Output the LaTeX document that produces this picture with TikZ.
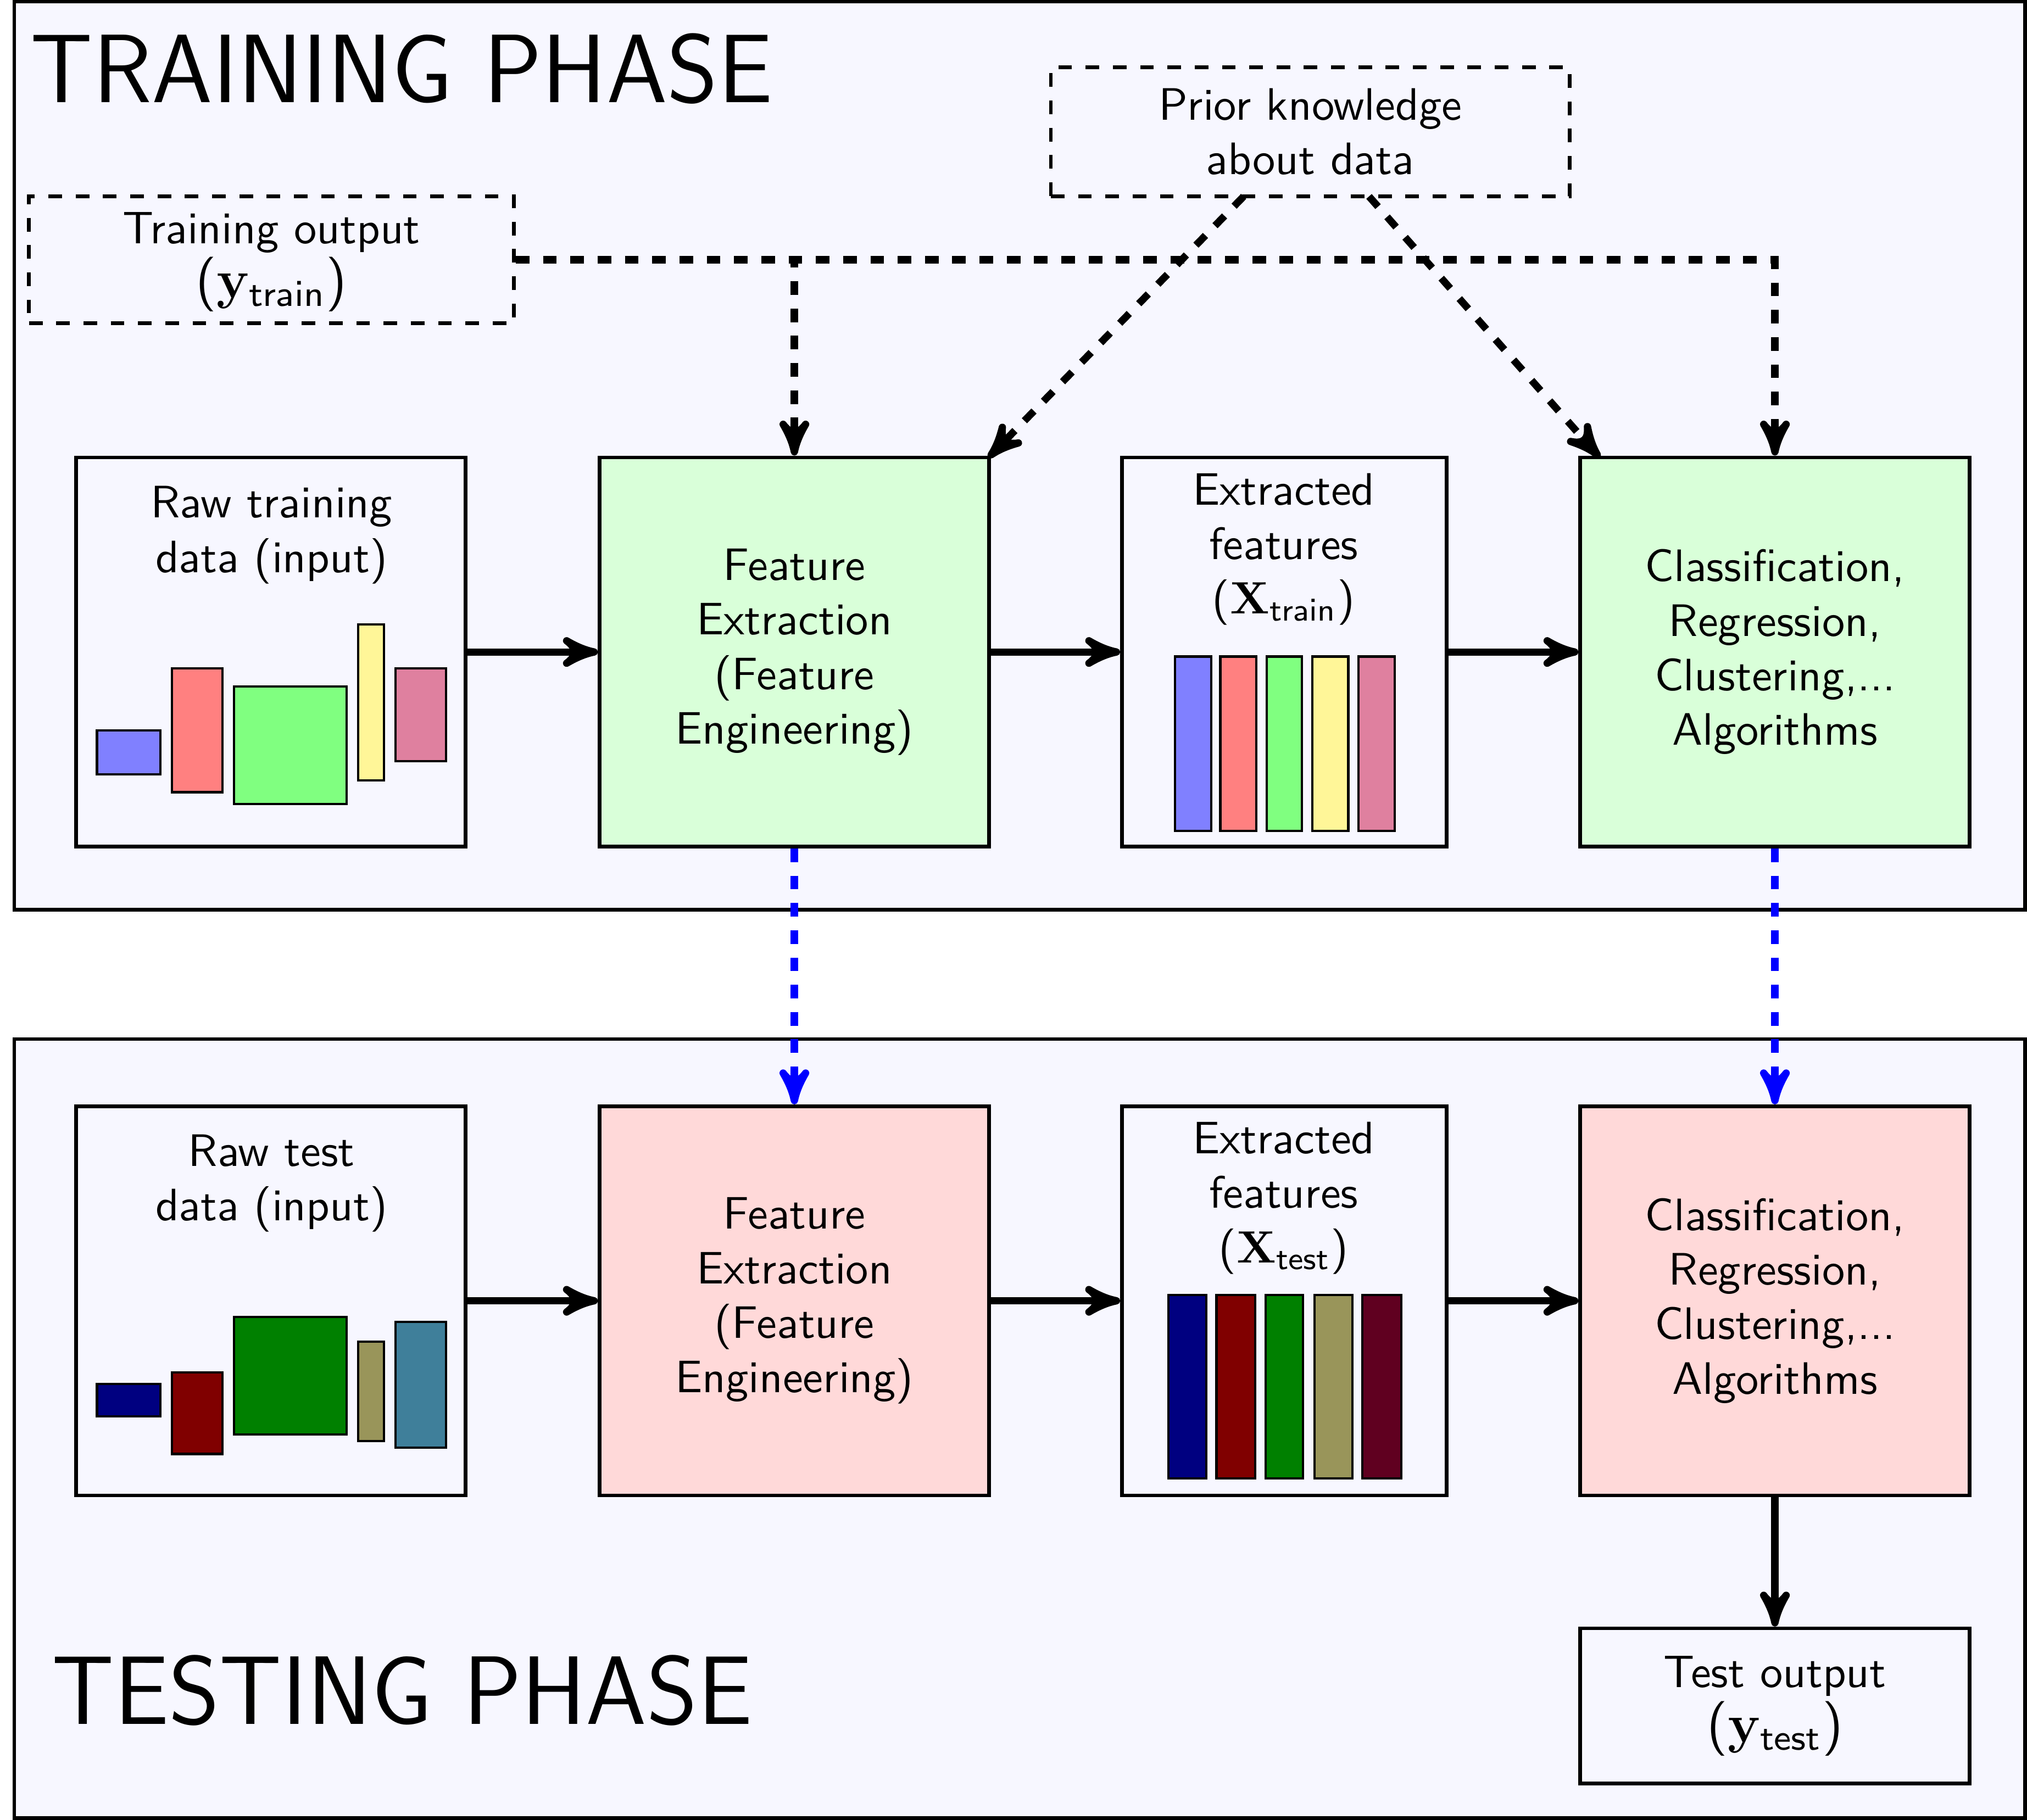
\documentclass[tikz,border=0pt]{standalone}
\usepackage[no-math]{fontspec}
\renewcommand{\familydefault}{\sfdefault}
\usepackage{amsmath}
\usetikzlibrary{arrows}
\definecolor{softyel}{RGB}{255,246,152}
\definecolor{olv}{RGB}{153,149,90}
\definecolor{tel}{RGB}{63,127,154}
\begin{document}
\begin{tikzpicture}[x=0.01cm,y=-0.01cm,>=stealth',
  phase/.style={draw=black,fill=blue!3,line width=0.8pt},
  box/.style={draw=black,line width=0.8pt,inner sep=0pt,align=center,minimum width=3.01cm,minimum height=3.01cm},
  plainbox/.style={box,fill=blue!3},
  narrowbox/.style={plainbox,minimum width=2.51cm},
  trainbox/.style={box,fill=green!15},
  testbox/.style={box,fill=red!15},
  dashbox/.style={draw=black,dashed,line width=0.8pt,inner sep=0pt,align=center},
  outbox/.style={plainbox,minimum height=1.2cm},
  label/.style={align=center,inner sep=0pt},
  title/.style={font=\fontsize{21.4}{25}\selectfont,inner sep=0pt},
  arr/.style={->,line width=1.6pt},
  darr/.style={->,dashed,line width=1.6pt},
  barr/.style={->,dashed,line width=1.6pt,draw=blue},
  bar/.style={draw=black,line width=0.5pt},
]
\path[use as bounding box] (0,0) rectangle (1568,1408.2);
\draw[phase] (11,1.3) rectangle (1566.6,704);
\draw[phase] (11,804) rectangle (1566.6,1406.7);

\node[title,anchor=west] (ttitle) at (23,53) {TRAINING PHASE};
\node[title,anchor=west] (etitle) at (39.5,1308) {TESTING PHASE};

% training row
\node[plainbox] (raw) at (209.5,504.5) {};
\node[label] (rawl) at (210,414) {Raw training\\data (input)};
\node[trainbox] (fe) at (614.5,504.5) {Feature\\Extraction\\(Feature\\Engineering)};
\node[narrowbox] (ex) at (993.5,504.5) {};
\node[label] (exl) at (993,425) {Extracted\\features\\($\mathbf{X}_{\mathsf{train}}$)};
\node[trainbox] (cl) at (1373,504.5) {Classification,\\Regression,\\Clustering,...\\Algorithms};

% testing row
\node[plainbox] (rawt) at (209.5,1006.5) {};
\node[label] (rawtl) at (210,915.5) {Raw test\\data (input)};
\node[testbox] (fet) at (614.5,1006.5) {Feature\\Extraction\\(Feature\\Engineering)};
\node[narrowbox] (ext) at (993.5,1006.5) {};
\node[label] (extl) at (993,927) {Extracted\\features\\($\mathbf{X}_{\mathsf{test}}$)};
\node[testbox] (clt) at (1373,1006.5) {Classification,\\Regression,\\Clustering,...\\Algorithms};
\node[outbox] (out) at (1373,1320) {Test output\\{\large($\mathbf{y}_{\mathsf{test}}$)}};

% dashed sources
\node[dashbox,minimum width=3.75cm,minimum height=0.98cm] (yt) at (210,201) {};
\node[label] (ytl) at (210,202.7) {Training output\\{\large($\mathbf{y}_{\mathsf{train}}$)}};
\node[dashbox,minimum width=4.01cm,minimum height=1cm] (prior) at (1013.5,102) {Prior knowledge\\about data};
\coordinate (pl) at (962,152);
\coordinate (pr) at (1059,152);
\coordinate (fec) at (764.7,354);
\coordinate (clc) at (1237.5,354);

% coloured rectangles, training
\draw[bar,fill=blue!50] (75,565) rectangle (124,599);
\draw[bar,fill=red!50] (133,517) rectangle (172,613);
\draw[bar,fill=green!50] (181,531) rectangle (268,622);
\draw[bar,fill=softyel] (277,483) rectangle (297,604);
\draw[bar,fill=purple!50] (306,517) rectangle (345,589);
\draw[bar,fill=blue!50] (909,508) rectangle (937,643);
\draw[bar,fill=red!50] (944,508) rectangle (972,643);
\draw[bar,fill=green!50] (980,508) rectangle (1007,643);
\draw[bar,fill=softyel] (1015,508) rectangle (1043,643);
\draw[bar,fill=purple!50] (1051,508) rectangle (1079,643);

% coloured rectangles, testing
\draw[bar,fill=blue!50!black] (75,1071) rectangle (124,1096);
\draw[bar,fill=red!50!black] (133,1062) rectangle (172,1125);
\draw[bar,fill=green!50!black] (181,1019) rectangle (268,1110);
\draw[bar,fill=olv] (277,1038) rectangle (297,1115);
\draw[bar,fill=tel] (306,1023) rectangle (345,1120);
\draw[bar,fill=blue!50!black] (904,1002) rectangle (933,1144);
\draw[bar,fill=red!50!black] (941,1002) rectangle (971,1144);
\draw[bar,fill=green!50!black] (979,1002) rectangle (1008,1144);
\draw[bar,fill=olv] (1017,1002) rectangle (1046,1144);
\draw[bar,fill=purple!50!black] (1054,1002) rectangle (1084,1144);

% connectors
\draw[arr] (raw) -- (fe);
\draw[arr] (fe) -- (ex);
\draw[arr] (ex) -- (cl);
\draw[arr] (rawt) -- (fet);
\draw[arr] (fet) -- (ext);
\draw[arr] (ext) -- (clt);
\draw[arr] (clt) -- (out);
\draw[darr] (yt.east) -| (fe.north);
\draw[darr] (yt.east) -| (cl.north);
\draw[darr] (pl) -- (fec);
\draw[darr] (pr) -- (clc);
\draw[barr] (fe) -- (fet);
\draw[barr] (cl) -- (clt);
\end{tikzpicture}
\end{document}
